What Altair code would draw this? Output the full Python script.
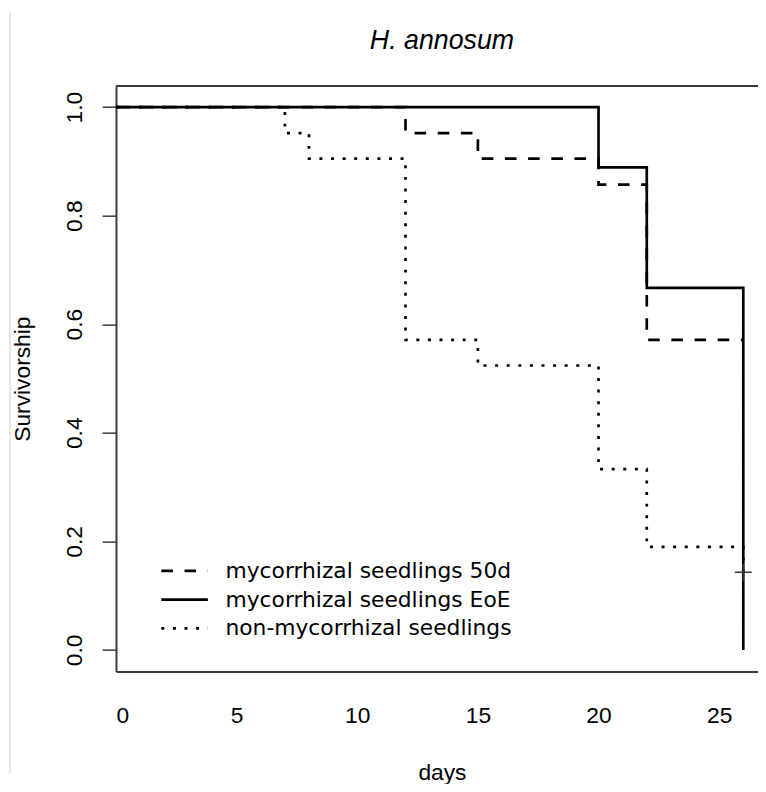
import altair as alt
import pandas as pd

# ---- data (Kaplan-Meier steps) ----
series_names = ["mycorrhizal seedlings 50d", "mycorrhizal seedlings EoE", "non-mycorrhizal seedlings"]

days_50d = [0, 12, 15, 20, 22, 26]
surv_50d = [1.0, 0.952, 0.905, 0.857, 0.571, 0.571]

days_eoe = [0, 20, 22, 26]
surv_eoe = [1.0, 0.889, 0.667, 0.0]

days_non = [0, 7, 8, 12, 15, 20, 22, 26]
surv_non = [1.0, 0.952, 0.905, 0.571, 0.524, 0.333, 0.190, 0.143]

censor_days = [26]
censor_surv = [0.143]

x_ticks = [0, 5, 10, 15, 20, 25]
y_ticks = [0.0, 0.2, 0.4, 0.6, 0.8, 1.0]

main_title = "H. annosum"

# ---- build tables ----
rows = []
for name, dd, ss in [(series_names[0], days_50d, surv_50d),
                     (series_names[2], days_non, surv_non),
                     (series_names[1], days_eoe, surv_eoe)]:
    for i, (d, s) in enumerate(zip(dd, ss)):
        rows.append({"day": d, "surv": s, "group": name, "ord": i})
df = pd.DataFrame(rows)
cens = pd.DataFrame({"day": censor_days, "surv": censor_surv})

W, H = 648, 591
xscale = alt.Scale(domain=[0, 26.61], nice=False, zero=False)
yscale = alt.Scale(domain=[-0.0396, 1.039], nice=False, zero=False)
FRAME = "#3a3a3a"
FS = 23

lines = alt.Chart(df).mark_line(
    interpolate="step-after", color="black", strokeWidth=2.7, strokeCap="butt"
).encode(
    x=alt.X("day:Q", scale=xscale,
            axis=alt.Axis(values=x_ticks, title="days", ticks=False, tickSize=0,
                          grid=False, labelPadding=52, labelBaseline="alphabetic",
                          labelFontSize=FS, labelFont="Liberation Sans",
                          labelColor="black", domainColor=FRAME, domainWidth=2,
                          titleFont="Liberation Sans", titleFontSize=FS,
                          titleFontWeight="normal", titleColor="black",
                          titleX=329, titleY=109, titleAlign="center",
                          titleBaseline="alphabetic")),
    y=alt.Y("surv:Q", scale=yscale,
            axis=alt.Axis(values=y_ticks, format=".1f", title="Survivorship",
                          grid=False, tickSize=14, tickColor=FRAME, tickWidth=1.5,
                          labelAngle=270, labelAlign="center",
                          labelBaseline="alphabetic", labelPadding=21,
                          labelFontSize=FS, labelFont="Liberation Sans",
                          labelColor="black", domainColor=FRAME, domainWidth=2,
                          titleFont="Liberation Sans", titleFontSize=FS,
                          titleFontWeight="normal", titleColor="black",
                          titleAngle=270, titleX=-87, titleY=H / 2,
                          titleAlign="center", titleBaseline="alphabetic")),
    strokeDash=alt.StrokeDash(
        "group:N",
        scale=alt.Scale(domain=series_names,
                        range=[[11.7, 11.7], [1, 0], [3, 8.7]]),
        legend=alt.Legend(title=None, orient="none", legendX=55.75, legendY=476,
                          symbolType="M-2,0L2,0", symbolSize=552,
                          symbolStrokeWidth=2.7, symbolStrokeColor="black",
                          labelFont="DejaVu Sans", labelFontSize=22,
                          labelColor="black", labelOffset=27.75, rowPadding=4,
                          labelLimit=0, padding=0)),
    order="ord:Q",
)

censor = alt.Chart(cens).mark_point(
    shape="M-1,0L1,0M0,-1L0,1", size=289, stroke="#333333", strokeWidth=1.5,
    filled=False, opacity=1
).encode(x=alt.X("day:Q", scale=xscale), y=alt.Y("surv:Q", scale=yscale))

top_border = alt.Chart(cens).mark_rule(color=FRAME, strokeWidth=2).encode(
    x=alt.value(0), x2=alt.value(W), y=alt.value(0)
)

# faint page border line at the far left of the reference image
page_edge = alt.Chart(cens).mark_rule(color="#cfcfcf", strokeWidth=1).encode(
    x=alt.value(-107), y=alt.value(-75), y2=alt.value(694)
)

title_txt = alt.Chart(cens).mark_text(
    text=main_title, font="Liberation Sans", fontSize=27, fontStyle="italic",
    fontWeight="normal", color="black", align="center", baseline="alphabetic"
).encode(x=alt.value(329), y=alt.value(-37))

chart = alt.layer(page_edge, top_border, lines, censor, title_txt).properties(
    width=W, height=H,
    autosize=alt.AutoSizeParams(type="none"),
    padding={"left": 109, "top": 75, "right": 0, "bottom": 110},
).configure_view(stroke=None)

chart.save("out.html", embed_options={"renderer": "svg", "actions": False})
